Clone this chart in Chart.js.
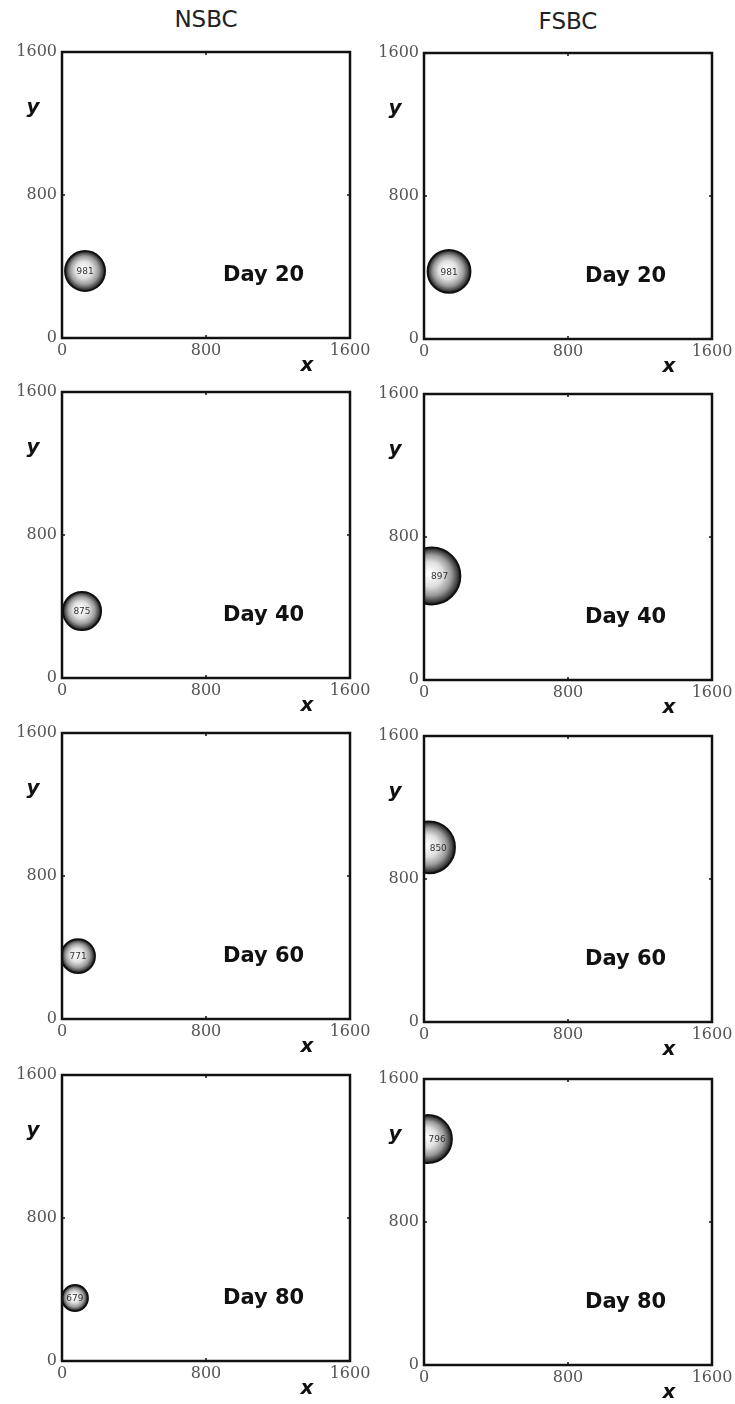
<!DOCTYPE html>
<html>
<head>
<meta charset="utf-8">
<script src="https://cdn.jsdelivr.net/npm/chart.js@4.4.1/dist/chart.umd.min.js"></script>
<style>
  body { margin: 0; background: #fff; width: 735px; height: 1404px; position: relative; overflow: hidden; }
  .panel { position: absolute; }
  .head { position: absolute; font: 23px "DejaVu Sans", sans-serif; color: #222; transform: translateX(-50%); white-space: nowrap; }
</style>
</head>
<body>
<div class="head" style="left:206px; top:6px;">NSBC</div>
<div class="head" style="left:568px; top:8px;">FSBC</div>
<script>
// columns and rows
const columns = ["NSBC", "FSBC"];
const days = ["Day 20", "Day 40", "Day 60", "Day 80"];
const tickValues = [0, 800, 1600];

// blob centre (x, y), radius and the number shown inside it
const nsbcX = [128, 111, 89, 72];
const nsbcY = [375, 375, 352, 352];
const nsbcR = [111, 106, 94, 72];
const nsbcCount = ["981", "875", "771", "679"];

const fsbcX = [139, 44, 28, 22];
const fsbcY = [378, 582, 977, 1264];
const fsbcR = [119, 158, 144, 133];
const fsbcCount = ["981", "897", "850", "796"];

const blobs = [
  { x: nsbcX, y: nsbcY, r: nsbcR, n: nsbcCount },
  { x: fsbcX, y: fsbcY, r: fsbcR, n: fsbcCount }
];

// where each plot box sits on the page
const plotLeft = [62, 424];
const plotTop = [[52, 392, 733, 1075], [53, 394, 736, 1079]];
const W = 288, H = 286;
const PAD_L = 60, PAD_T = 15, PAD_R = 24, PAD_B = 50;

function radiusPx(chart, v) {
  const s = chart.scales.x;
  const d = s.getPixelForValue(v) - s.getPixelForValue(0);
  return isFinite(d) && d > 0 ? d : 1;
}

const panelDecor = {
  id: "panelDecor",
  afterDraw(chart, args, opts) {
    const { ctx, chartArea: a, scales } = chart;
    ctx.save();
    // box
    ctx.strokeStyle = "#111";
    ctx.lineWidth = 2.5;
    ctx.strokeRect(a.left, a.top, a.right - a.left, a.bottom - a.top);
    // small inner ticks at 800
    ctx.lineWidth = 1.5;
    const mx = scales.x.getPixelForValue(800), my = scales.y.getPixelForValue(800);
    ctx.beginPath();
    ctx.moveTo(mx, a.top); ctx.lineTo(mx, a.top + 3);
    ctx.moveTo(mx, a.bottom); ctx.lineTo(mx, a.bottom - 3);
    ctx.moveTo(a.left, my); ctx.lineTo(a.left + 3, my);
    ctx.moveTo(a.right, my); ctx.lineTo(a.right - 3, my);
    ctx.stroke();

    // number inside the blob
    const el = chart.getDatasetMeta(0).data[0];
    const r = radiusPx(chart, opts.r);
    const lx = Math.max(el.x, a.left + r * 0.55);
    ctx.font = "9px 'DejaVu Sans'";
    ctx.fillStyle = "#333";
    ctx.textAlign = "center";
    ctx.textBaseline = "middle";
    ctx.fillText(opts.n, lx, el.y + 1);

    // day label
    ctx.font = "bold 21px 'DejaVu Sans'";
    ctx.fillStyle = "#111";
    ctx.fillText(opts.day, scales.x.getPixelForValue(1120), scales.y.getPixelForValue(350));

    // axis letters
    ctx.font = "bold italic 20px 'DejaVu Sans'";
    ctx.fillText("y", a.left - 29, a.top + 56);
    ctx.fillText("x", a.right - 43, a.bottom + 28);
    ctx.restore();
  }
};

columns.forEach((col, c) => {
  days.forEach((day, i) => {
    const div = document.createElement("div");
    div.className = "panel";
    div.style.left = (plotLeft[c] - PAD_L) + "px";
    div.style.top = (plotTop[c][i] - PAD_T) + "px";
    const canvas = document.createElement("canvas");
    canvas.width = PAD_L + W + PAD_R;
    canvas.height = PAD_T + H + PAD_B;
    div.appendChild(canvas);
    document.body.appendChild(div);

    const b = blobs[c];
    const axisBase = {
      type: "linear",
      min: 0,
      max: 1600,
      afterBuildTicks: s => { s.ticks = tickValues.map(v => ({ value: v })); },
      grid: { display: true, drawOnChartArea: false, drawTicks: false },
      border: { display: false }
    };
    const tickFont = { family: "DejaVu Serif", size: 16 };

    new Chart(canvas, {
      type: "scatter",
      data: {
        datasets: [{
          label: col + " " + day,
          data: [{ x: b.x[i], y: b.y[i] }],
          clip: 0,
          showLine: false,
          pointRadius: ctx => radiusPx(ctx.chart, b.r[i]),
          pointBorderColor: "#111",
          pointBorderWidth: 2,
          pointBackgroundColor: ctx => {
            const chart = ctx.chart;
            const cx = chart.scales.x.getPixelForValue(b.x[i]);
            const cy = chart.scales.y.getPixelForValue(b.y[i]);
            const r = radiusPx(chart, b.r[i]);
            if (!isFinite(cx) || !isFinite(cy) || r <= 1) return "#999";
            const g = chart.ctx.createRadialGradient(cx - r * 0.1, cy - r * 0.1, r * 0.05, cx, cy, r);
            g.addColorStop(0, "#ffffff");
            g.addColorStop(0.4, "#e0e0e0");
            g.addColorStop(0.7, "#9a9a9a");
            g.addColorStop(0.9, "#444");
            g.addColorStop(1, "#1a1a1a");
            return g;
          }
        }]
      },
      options: {
        responsive: false,
        animation: false,
        devicePixelRatio: 1,
        events: [],
        layout: { padding: { left: 0, top: PAD_T, right: PAD_R, bottom: 0 } },
        plugins: {
          legend: { display: false },
          tooltip: { enabled: false },
          panelDecor: { day: day, n: b.n[i], r: b.r[i] }
        },
        scales: {
          x: Object.assign({}, axisBase, {
            position: "bottom",
            afterFit: s => { s.height = PAD_B; },
            ticks: { padding: 3, color: "#555", font: tickFont, maxRotation: 0, callback: v => String(v) }
          }),
          y: Object.assign({}, axisBase, {
            position: "left",
            afterFit: s => { s.width = PAD_L; },
            ticks: { padding: 5, color: "#555", font: tickFont, callback: v => String(v) }
          })
        }
      },
      plugins: [panelDecor]
    });
  });
});
</script>
</body>
</html>
